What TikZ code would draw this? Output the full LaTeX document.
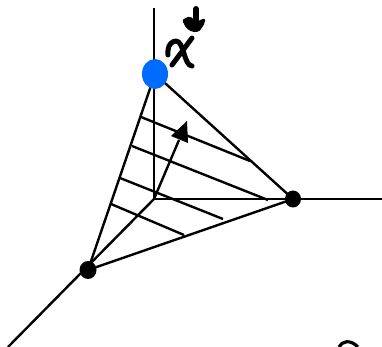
\documentclass[tikz,border=0pt]{standalone}
\usetikzlibrary{arrows.meta}
\definecolor{vertexblue}{RGB}{0,107,255}
\tikzset{
  ln/.style={line width=2.4pt,black},
  pen/.style={line width=5pt,black,line cap=round,line join=round},
}
\begin{document}
\begin{tikzpicture}[x=1pt,y=-1pt]
\useasboundingbox (0,0) rectangle (382,347);
\coordinate (O) at (154,199);
\coordinate (Ztop) at (154,8);
\coordinate (Xend) at (382,199);
\coordinate (Yend) at (8,347);
\coordinate (A) at (155,74);
\coordinate (B) at (293,199);
\coordinate (C) at (88,270);
\coordinate (Tip) at (187,121);
\coordinate (H1a) at (141,117); \coordinate (H1b) at (250,161);
\coordinate (H2a) at (132,146); \coordinate (H2b) at (268,200);
\coordinate (H3a) at (120,178); \coordinate (H3b) at (223,219);
\coordinate (H4a) at (111,204); \coordinate (H4b) at (184,235);
% axes
\draw[ln] (O) -- (Ztop);
\draw[ln] (O) -- (Xend);
\draw[ln] (O) -- (Yend);
% triangle
\draw[ln] (A) -- (B) -- (C) -- (A);
% hatching
\foreach \i in {1,2,3,4} \draw[ln] (H\i a) -- (H\i b);
% vector
\draw[ln] (O) -- (179,140);
\fill (Tip) -- (171,136) -- (188,143) -- cycle;
% vertices
\fill[vertexblue] (A) ellipse [x radius=13,y radius=15];
\fill (B) ellipse [x radius=8,y radius=8.5];
\fill (C) ellipse [x radius=8.5,y radius=9];
% handwritten x*
\draw[pen] (168,55) .. controls (167,45) and (172,41) .. (176,41) .. controls (184,41) and (184,66) .. (192,66);
\draw[pen] (192,38) -- (172,65);
\draw[line width=6pt,line cap=round] (196,9) -- (196,22);
\fill[rounded corners=2pt] (182,20) -- (190,16) -- (196,22) -- (205,18) -- (205,23) -- (199,32) -- (192,32) -- (186,28) -- cycle;
% stray curve at the lower edge
\draw[line width=3.2pt] (339,347) .. controls (342,341) and (350,339) .. (358,347);
\end{tikzpicture}
\end{document}
